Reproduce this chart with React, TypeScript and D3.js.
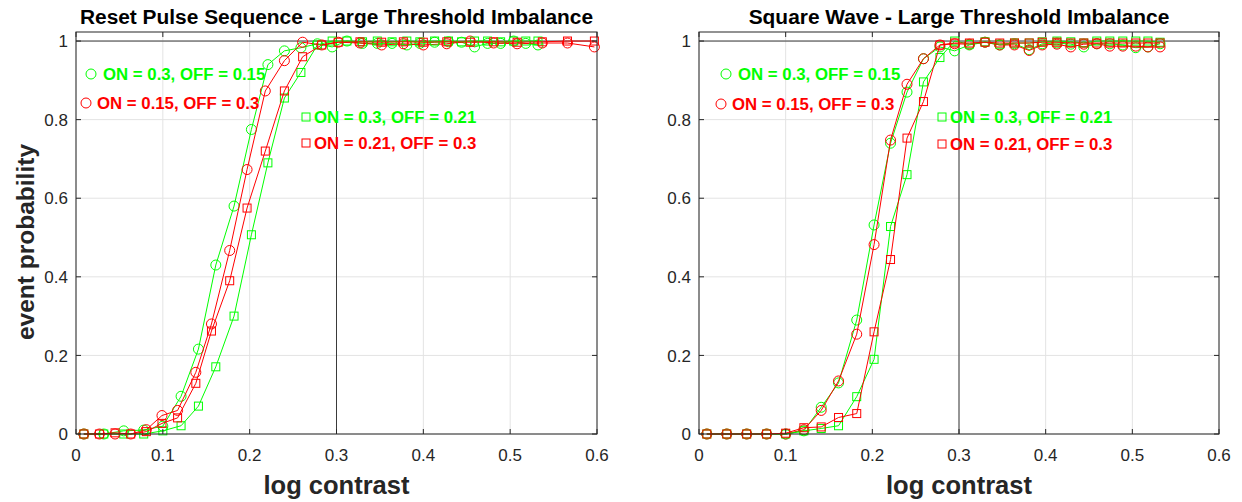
import React from 'react';
import * as d3 from 'd3';

const GREEN = '#00ff00';
const RED = '#ff0000';
const AXIS = '#262626';

const xTicks = [0, 0.1, 0.2, 0.3, 0.4, 0.5, 0.6];
const yTicks = [0, 0.2, 0.4, 0.6, 0.8, 1];

// Contrast steps used by the ON = 0.3 runs and by all square-wave runs
const contrastA = [
  0.009, 0.032, 0.055, 0.078, 0.1, 0.121, 0.141, 0.161, 0.182, 0.202,
  0.221, 0.24, 0.259, 0.278, 0.295, 0.312, 0.33, 0.347, 0.364, 0.381,
  0.396, 0.413, 0.429, 0.444, 0.459, 0.474, 0.489, 0.504, 0.518, 0.532,
];
// Contrast steps used by the reset-pulse runs with OFF = 0.3
const contrastB = [
  0.009, 0.027, 0.045, 0.063, 0.081, 0.099, 0.117, 0.138, 0.156, 0.177,
  0.197, 0.218, 0.24, 0.261, 0.283, 0.302, 0.327, 0.352, 0.377, 0.4,
  0.427, 0.454, 0.481, 0.508, 0.537, 0.566, 0.597,
];

// Reset pulse sequence
const resetOn30Off15 = [
  0, 0, 0.008, 0.01, 0.02, 0.096, 0.216, 0.43, 0.58, 0.775,
  0.94, 0.975, 0.983, 0.993, 0.985, 1.0, 0.994, 0.994, 0.994, 0.99,
  0.994, 0.997, 0.998, 0.997, 0.985, 0.994, 0.994, 1.0, 0.994, 0.99,
];
const resetOn15Off30 = [
  0, 0, 0, 0, 0.011, 0.047, 0.06, 0.157, 0.28, 0.467,
  0.673, 0.873, 0.95, 0.997, 0.99, 0.997, 0.995, 0.99, 0.993, 0.99,
  0.993, 1.0, 0.995, 0.993, 0.995, 0.995, 0.985,
];
const resetOn30Off21 = [
  0, 0, 0, 0, 0.008, 0.021, 0.071, 0.171, 0.3, 0.507,
  0.69, 0.855, 0.92, 0.99, 1.0, 1.0, 0.998, 1.0, 0.998, 1.0,
  0.998, 1.0, 1.0, 0.998, 1.0, 1.0, 0.998, 1.0, 1.0, 1.0,
];
const resetOn21Off30 = [
  0, 0, 0.003, 0, 0.006, 0.027, 0.041, 0.129, 0.262, 0.39,
  0.575, 0.72, 0.873, 0.96, 0.99, 0.997, 0.998, 0.997, 0.998, 0.997,
  0.998, 0.997, 0.998, 0.997, 0.998, 1.0, 1.0,
];

// Square wave
const squareOn30Off15 = [
  0, 0, 0, 0, 0, 0.008, 0.068, 0.13, 0.29, 0.532,
  0.74, 0.87, 0.955, 0.985, 0.975, 0.99, 0.997, 0.99, 0.993, 0.978,
  0.993, 0.995, 0.992, 0.985, 0.993, 0.993, 0.99, 0.983, 0.985, 0.993,
];
const squareOn15Off30 = [
  0, 0, 0, 0, 0, 0.011, 0.06, 0.135, 0.254, 0.482,
  0.748, 0.89, 0.955, 0.99, 0.993, 0.992, 0.997, 0.99, 0.99, 0.976,
  0.99, 0.992, 0.985, 0.992, 0.993, 0.987, 0.987, 0.987, 0.985, 0.985,
];
const squareOn30Off21 = [
  0, 0, 0, 0, 0, 0.008, 0.014, 0.021, 0.095, 0.19,
  0.528, 0.66, 0.896, 0.958, 1.0, 0.992, 0.998, 0.992, 0.995, 0.995,
  0.998, 1.0, 0.998, 0.995, 1.0, 1.0, 1.0, 1.0, 1.0, 0.997,
];
const squareOn21Off30 = [
  0, 0, 0, 0, 0.002, 0.016, 0.018, 0.042, 0.052, 0.26,
  0.444, 0.753, 0.846, 0.99, 0.995, 0.995, 0.997, 0.995, 0.995, 0.995,
  0.997, 0.997, 0.995, 0.995, 0.995, 0.995, 0.995, 0.995, 0.995, 0.995,
];

const legendLabels = [
  'ON = 0.3, OFF = 0.15',
  'ON = 0.15, OFF = 0.3',
  'ON = 0.3, OFF = 0.21',
  'ON = 0.21, OFF = 0.3',
];

type Series = { xs: number[]; ys: number[]; color: string; marker: 'circle' | 'square' };
type LegendItem = { label: string; color: string; marker: 'circle' | 'square'; mx: number; my: number; tx: number };

const FONT = "'Liberation Sans', Arial, Helvetica, sans-serif";
const TOP = 32;
const BOTTOM = 434;

function Marker({ kind, x, y, color, size }: { kind: 'circle' | 'square'; x: number; y: number; color: string; size: number }) {
  if (kind === 'circle') {
    return <circle cx={x} cy={y} r={size / 2} fill="none" stroke={color} strokeWidth={1} />;
  }
  return <rect x={x - size / 2} y={y - size / 2} width={size} height={size} fill="none" stroke={color} strokeWidth={1} />;
}

function Panel({ left, right, title, series, legend, yLabel }: {
  left: number; right: number; title: string; series: Series[]; legend: LegendItem[]; yLabel?: string;
}) {
  const x = d3.scaleLinear().domain([0, 0.6]).range([left, right]);
  const y = d3.scaleLinear().domain([0, 1.023]).range([BOTTOM, TOP]);
  const line = d3.line<[number, number]>().x((d) => x(d[0])).y((d) => y(d[1]));
  const tickLen = 5;
  const cx = (left + right) / 2;

  return (
    <g>
      {/* grid */}
      {xTicks.map((t) => (
        <line key={'gx' + t} x1={x(t)} x2={x(t)} y1={TOP} y2={BOTTOM} stroke="#e3e3e3" strokeWidth={1} />
      ))}
      {yTicks.map((t) => (
        <line key={'gy' + t} x1={left} x2={right} y1={y(t)} y2={y(t)} stroke="#e3e3e3" strokeWidth={1} />
      ))}
      {/* reference lines at full probability and at 0.3 log contrast */}
      <line x1={left} x2={right} y1={y(1)} y2={y(1)} stroke="#3a3a3a" strokeWidth={1} />
      <line x1={x(0.3)} x2={x(0.3)} y1={TOP} y2={BOTTOM} stroke="#3a3a3a" strokeWidth={1} />

      {/* data */}
      {series.map((s, i) => {
        const pts = s.xs.map((v, k) => [v, s.ys[k]] as [number, number]);
        return (
          <g key={'s' + i}>
            <path d={line(pts) || ''} fill="none" stroke={s.color} strokeWidth={1} />
            {pts.map((p, k) => (
              <Marker key={k} kind={s.marker} x={x(p[0])} y={y(p[1])} color={s.color} size={s.marker === 'circle' ? 10 : 8} />
            ))}
          </g>
        );
      })}

      {/* legend text */}
      {legend.map((l, i) => (
        <g key={'l' + i}>
          <Marker kind={l.marker} x={l.mx} y={l.my} color={l.color} size={l.marker === 'circle' ? 10 : 8} />
          <text x={l.tx} y={l.my} dy="0.36em" fill={l.color} fontFamily={FONT} fontWeight="bold" fontSize={16.8}>
            {l.label}
          </text>
        </g>
      ))}

      {/* box and ticks */}
      <rect x={left} y={TOP} width={right - left} height={BOTTOM - TOP} fill="none" stroke={AXIS} strokeWidth={1} />
      {xTicks.map((t) => (
        <g key={'tx' + t}>
          <line x1={x(t)} x2={x(t)} y1={BOTTOM} y2={BOTTOM - tickLen} stroke={AXIS} />
          <line x1={x(t)} x2={x(t)} y1={TOP} y2={TOP + tickLen} stroke={AXIS} />
          <text x={x(t)} y={461} textAnchor="middle" fill={AXIS} fontFamily={FONT} fontSize={17}>
            {d3.format('~g')(t)}
          </text>
        </g>
      ))}
      {yTicks.map((t) => (
        <g key={'ty' + t}>
          <line x1={left} x2={left + tickLen} y1={y(t)} y2={y(t)} stroke={AXIS} />
          <line x1={right} x2={right - tickLen} y1={y(t)} y2={y(t)} stroke={AXIS} />
          <text x={left - 8} y={y(t)} dy="0.36em" textAnchor="end" fill={AXIS} fontFamily={FONT} fontSize={17}>
            {d3.format('~g')(t)}
          </text>
        </g>
      ))}

      <text x={cx} y={24} textAnchor="middle" fill="#000" fontFamily={FONT} fontWeight="bold" fontSize={20.9}>
        {title}
      </text>
      <text x={cx} y={494} textAnchor="middle" fill={AXIS} fontFamily={FONT} fontWeight="bold" fontSize={25.5}>
        log contrast
      </text>
      {yLabel && (
        <text transform={`translate(34,${(TOP + BOTTOM) / 2 + 9}) rotate(-90)`} textAnchor="middle" fill={AXIS}
          fontFamily={FONT} fontWeight="bold" fontSize={24.5}>
          {yLabel}
        </text>
      )}
    </g>
  );
}

export default function App() {
  const leftSeries: Series[] = [
    { xs: contrastA, ys: resetOn30Off15, color: GREEN, marker: 'circle' },
    { xs: contrastB, ys: resetOn15Off30, color: RED, marker: 'circle' },
    { xs: contrastA, ys: resetOn30Off21, color: GREEN, marker: 'square' },
    { xs: contrastB, ys: resetOn21Off30, color: RED, marker: 'square' },
  ];
  const rightSeries: Series[] = [
    { xs: contrastA, ys: squareOn30Off15, color: GREEN, marker: 'circle' },
    { xs: contrastA, ys: squareOn15Off30, color: RED, marker: 'circle' },
    { xs: contrastA, ys: squareOn30Off21, color: GREEN, marker: 'square' },
    { xs: contrastA, ys: squareOn21Off30, color: RED, marker: 'square' },
  ];
  const leftLegend: LegendItem[] = [
    { label: legendLabels[0], color: GREEN, marker: 'circle', mx: 91, my: 74, tx: 103 },
    { label: legendLabels[1], color: RED, marker: 'circle', mx: 86, my: 103, tx: 97 },
    { label: legendLabels[2], color: GREEN, marker: 'square', mx: 306, my: 117, tx: 314 },
    { label: legendLabels[3], color: RED, marker: 'square', mx: 306, my: 143, tx: 314 },
  ];
  const rightLegend: LegendItem[] = [
    { label: legendLabels[0], color: GREEN, marker: 'circle', mx: 726, my: 74, tx: 738 },
    { label: legendLabels[1], color: RED, marker: 'circle', mx: 721, my: 104, tx: 732 },
    { label: legendLabels[2], color: GREEN, marker: 'square', mx: 942, my: 117, tx: 950 },
    { label: legendLabels[3], color: RED, marker: 'square', mx: 942, my: 144, tx: 950 },
  ];

  return (
    <div style={{ position: 'absolute', left: 0, top: 0 }}>
      <svg width={1242} height={502} style={{ display: 'block', background: '#fff' }}>
        <Panel left={76} right={597} title="Reset Pulse Sequence - Large Threshold Imbalance"
          series={leftSeries} legend={leftLegend} yLabel="event probability" />
        <Panel left={699} right={1219} title="Square Wave - Large Threshold Imbalance"
          series={rightSeries} legend={rightLegend} />
      </svg>
    </div>
  );
}
